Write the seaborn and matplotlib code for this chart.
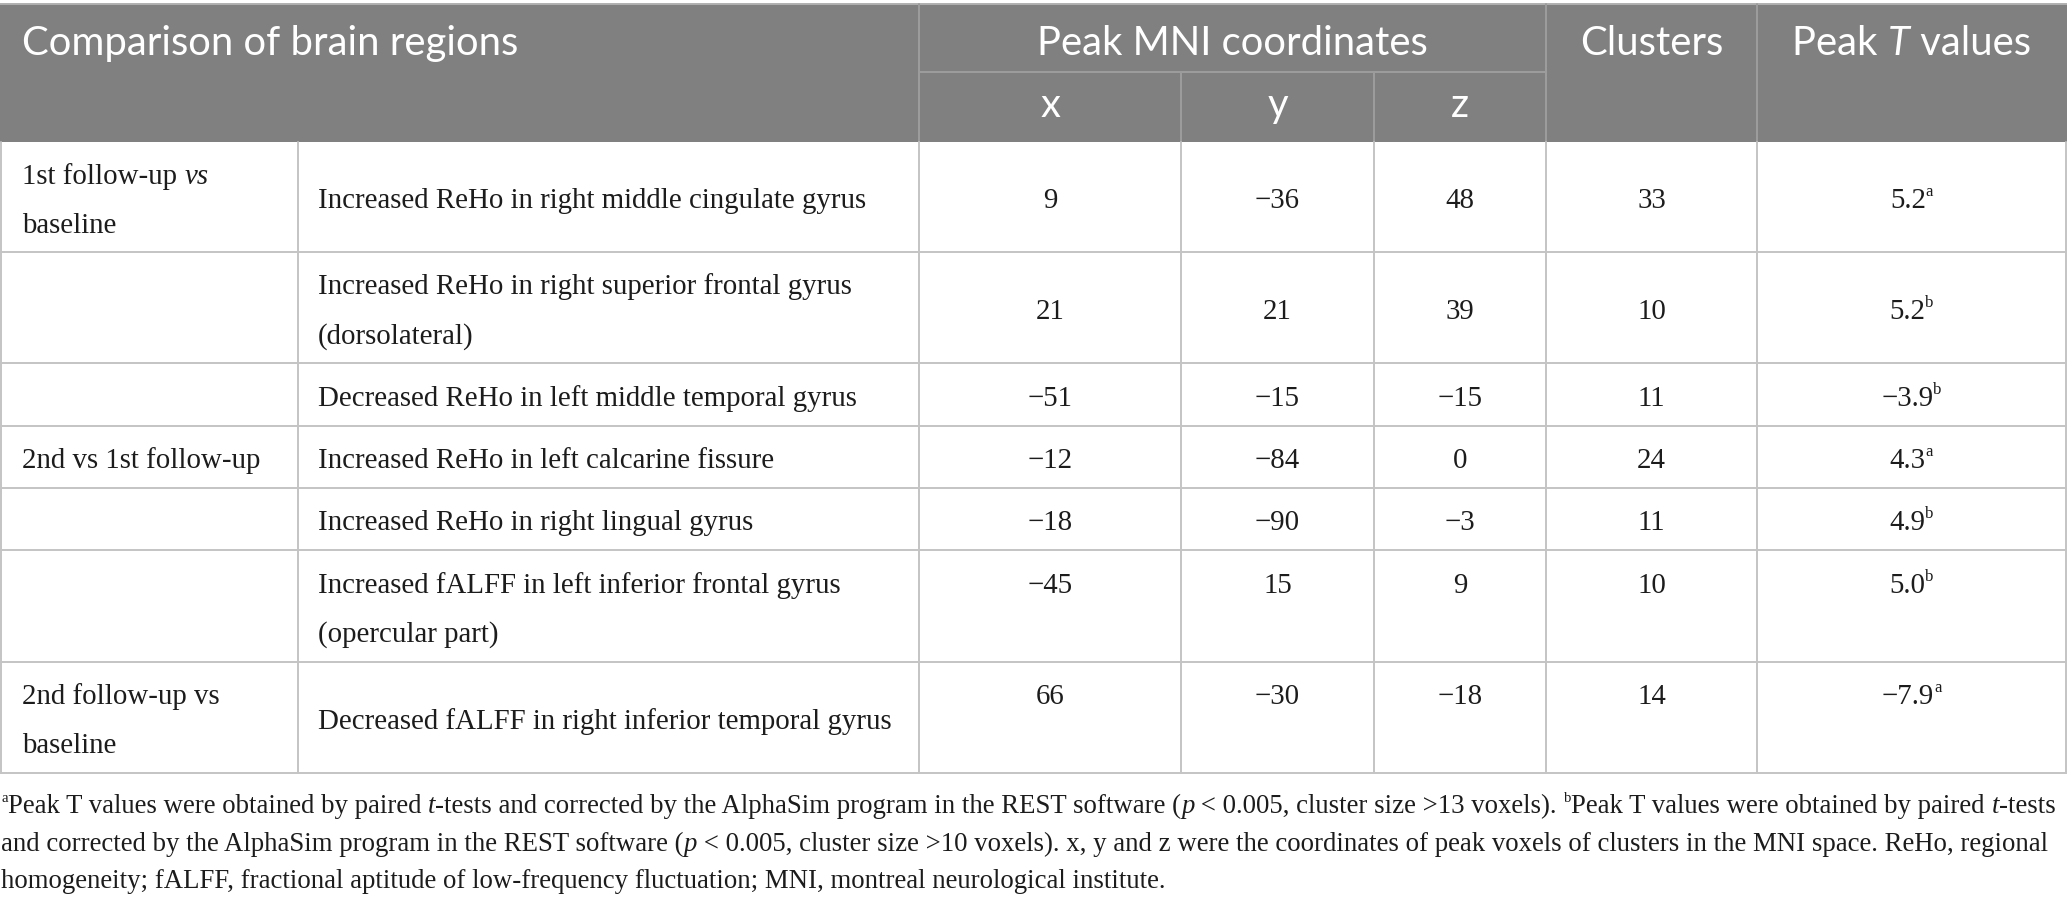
import re
import matplotlib
matplotlib.use("Agg")
import matplotlib.pyplot as plt
from matplotlib.patches import Rectangle
import seaborn as sns

# ---------------- data ----------------
comparisons = ["1st follow-up *vs*|baseline", "", "", "2nd vs 1st follow-up", "", "",
               "2nd follow-up vs|baseline"]
regions = ["Increased ReHo in right middle cingulate gyrus",
           "Increased ReHo in right superior frontal gyrus|(dorsolateral)",
           "Decreased ReHo in left middle temporal gyrus",
           "Increased ReHo in left calcarine fissure",
           "Increased ReHo in right lingual gyrus",
           "Increased fALFF in left inferior frontal gyrus|(opercular part)",
           "Decreased fALFF in right inferior temporal gyrus"]
x_coord = [9, 21, -51, -12, -18, -45, 66]
y_coord = [-36, 21, -15, -84, -90, 15, -30]
z_coord = [48, 39, -15, 0, -3, 9, -18]
clusters = [33, 10, 11, 24, 11, 10, 14]
peak_t = [5.2, 5.2, -3.9, 4.3, 4.9, 5.0, -7.9]
peak_sig = ["a", "b", "b", "a", "b", "b", "a"]

header_top = ["Comparison of brain regions", "Peak MNI coordinates", "Clusters", "Peak *T* values"]
header_sub = ["x", "y", "z"]

footnotes = [
    "^aPeak T values were obtained by paired *t*-tests and corrected by the AlphaSim program in the REST software (*p* < 0.005, cluster size >13 voxels). ^bPeak T values were obtained by paired *t*-tests",
    "and corrected by the AlphaSim program in the REST software (*p* < 0.005, cluster size >10 voxels). x, y and z were the coordinates of peak voxels of clusters in the MNI space. ReHo, regional",
    "homogeneity; fALFF, fractional aptitude of low-frequency fluctuation; MNI, montreal neurological institute.",
]

# ---------------- layout / style ----------------
W, H = 2067, 900
col_edges = [1, 298, 919, 1181, 1374, 1546, 1757, 2066]
hdr_top, hdr_mid, hdr_bot = 4, 72, 142
row_edges = [142, 252, 363, 426, 488, 550, 662, 773]
value_valign = ["center", "center", "center", "center", "center", "top", "top"]
HDR_BG = "#808080"
HDR_LINE = "#9d9d9d"
GRID = "#c4c4c4"
TXT = "#1c1c1c"
SERIF = ["Liberation Serif", "DejaVu Serif"]
SANS = ["Lato", "Open Sans", "DejaVu Sans"]

sns.set_theme(style="white")
plt.rcParams["font.family"] = SERIF

fig = plt.figure(figsize=(W / 100, H / 100), dpi=100)
ax = fig.add_axes([0, 0, 1, 1])
ax.set_xlim(0, W)
ax.set_ylim(H, 0)
ax.axis("off")
renderer = fig.canvas.get_renderer()


def parse(s):
    runs = []
    for tok in re.split(r"(\*[^*]+\*|\^\w)", s):
        if not tok:
            continue
        if tok.startswith("*") and tok.endswith("*") and len(tok) > 2:
            runs.append((tok[1:-1], "i"))
        elif tok.startswith("^"):
            runs.append((tok[1:], "sup"))
        else:
            runs.append((tok, "n"))
    return runs


def draw_runs(x, y, s, size, family, color, ha="left", raise_frac=0.36,
              weight="normal", sup_scale=0.62):
    """Draw styled runs on one baseline y; returns total width."""
    arts = []
    total = 0.0
    for txt, st in parse(s):
        fs = size * (sup_scale if st == "sup" else 1.0)
        t = ax.text(0, y, txt, fontsize=fs, family=family, color=color,
                    style="italic" if st == "i" else "normal", fontweight=weight,
                    ha="left", va="baseline")
        w = t.get_window_extent(renderer).width
        arts.append((t, st, w))
        total += w
    start = x if ha == "left" else x - total / 2.0
    cur = start
    px = size * 100 / 72.0
    for t, st, w in arts:
        t.set_x(cur)
        if st == "sup":
            t.set_y(y - raise_frac * px)
        cur += w
    return total


def measure(s, size, family, weight="normal", sup_scale=0.62):
    arts_w = 0.0
    for txt, st in parse(s):
        fs = size * (sup_scale if st == "sup" else 1.0)
        t = ax.text(0, 0, txt, fontsize=fs, family=family, fontweight=weight,
                    style="italic" if st == "i" else "normal")
        arts_w += t.get_window_extent(renderer).width
        t.remove()
    return arts_w


HW = "normal"
# font sizes fitted to reference text widths
body_fs = 20 * 576 / measure(regions[6], 20, SERIF)
hdr_fs = 24 * 496 / measure(header_top[0], 24, SANS, weight=HW)
foot_fs = 16 * 2057 / measure(footnotes[0], 16, SERIF, sup_scale=0.55)
body_px = body_fs * 100 / 72
hdr_px = hdr_fs * 100 / 72
foot_px = foot_fs * 100 / 72

# ---------------- header ----------------
ax.add_patch(Rectangle((0, hdr_top), W, hdr_bot - hdr_top, color=HDR_BG, lw=0, zorder=0))
ax.plot([0, W], [hdr_top, hdr_top], color="#b0b0b0", lw=1.4, zorder=2)
for xe in [col_edges[2], col_edges[5], col_edges[6]]:
    ax.plot([xe, xe], [hdr_top, hdr_bot], color=HDR_LINE, lw=1.4, zorder=2)
for xe in [col_edges[3], col_edges[4]]:
    ax.plot([xe, xe], [hdr_mid, hdr_bot], color=HDR_LINE, lw=1.4, zorder=2)
ax.plot([col_edges[2], col_edges[5]], [hdr_mid, hdr_mid], color=HDR_LINE, lw=1.4, zorder=2)

hdr_base = 41 + 0.36 * hdr_px
draw_runs(22, hdr_base, header_top[0], hdr_fs, SANS, "white", weight=HW)
draw_runs((col_edges[2] + col_edges[5]) / 2, hdr_base, header_top[1], hdr_fs, SANS, "white",
          ha="center", weight=HW)
draw_runs((col_edges[5] + col_edges[6]) / 2, hdr_base, header_top[2], hdr_fs, SANS, "white",
          ha="center", weight=HW)
draw_runs((col_edges[6] + col_edges[7]) / 2, hdr_base, header_top[3], hdr_fs, SANS, "white",
          ha="center", weight=HW)
sub_base = 107 + 0.25 * hdr_px
for i, lab in enumerate(header_sub):
    cx = (col_edges[2 + i] + col_edges[3 + i]) / 2
    draw_runs(cx, sub_base, lab, hdr_fs, SANS, "white", ha="center", weight=HW)

# ---------------- body grid ----------------
for ye in row_edges[1:]:
    ax.plot([0, W], [ye, ye], color=GRID, lw=1.4, zorder=2)
for xe in col_edges:
    ax.plot([xe, xe], [row_edges[0], row_edges[-1]], color=GRID, lw=1.4, zorder=2)


def fmt(v, dec=0):
    s = f"{abs(v):.{dec}f}"
    return ("\u2212" if v < 0 else "") + s


LINE_GAP = 49
off = 0.34 * body_px
for r in range(len(regions)):
    top, bot = row_edges[r], row_edges[r + 1]
    mid = (top + bot) / 2 + 1.5
    for ci, cell in enumerate([comparisons[r], regions[r]]):
        if not cell:
            continue
        lines = cell.split("|")
        n = len(lines)
        y0 = mid - (n - 1) * LINE_GAP / 2
        x0 = col_edges[ci] + (21 if ci == 0 else 20)
        for k, ln in enumerate(lines):
            draw_runs(x0, y0 + k * LINE_GAP + off, ln, body_fs, SERIF, TXT)
    vy = mid - LINE_GAP / 2 if value_valign[r] == "top" else mid
    vals = [fmt(x_coord[r]), fmt(y_coord[r]), fmt(z_coord[r]), fmt(clusters[r]),
            fmt(peak_t[r], 1) + "^" + peak_sig[r]]
    for j, v in enumerate(vals):
        cx = (col_edges[2 + j] + col_edges[3 + j]) / 2
        draw_runs(cx, vy + off, v, body_fs, SERIF, TXT, ha="center", raise_frac=0.42,
                  sup_scale=0.58)

# ---------------- footnotes ----------------
foot_centers = [804, 842, 879]
for ln, cy in zip(footnotes, foot_centers):
    draw_runs(1, cy + 0.34 * foot_px, ln, foot_fs, SERIF, TXT, raise_frac=0.42, sup_scale=0.55)

fig.savefig("out.png", dpi=100, facecolor="white")
